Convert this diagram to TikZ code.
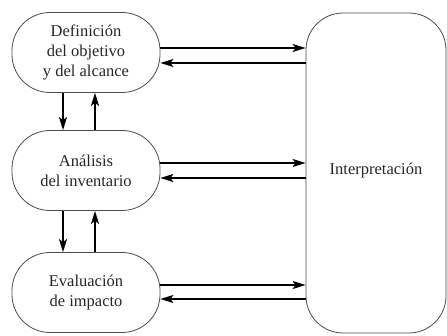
\documentclass[tikz,border=0pt]{standalone}
\usepackage{fontspec}
\setmainfont{Liberation Serif}
\usetikzlibrary{arrows.meta}

\begin{document}
\begin{tikzpicture}[x=1pt,y=-1pt,
		etapa/.style={draw=black!70, line width=0.8pt, rounded corners=38pt,
			minimum width=148pt, minimum height=80pt, align=center,
			font=\fontsize{16.5}{20}\selectfont, text=black!85},
		flecha/.style={line width=1.4pt, -{Stealth[length=13pt,width=8pt,inset=3pt]}}]
		\useasboundingbox (0,0) rectangle (447,336);
		\node[etapa] (def) at (86,52.5) {Definición\\del objetivo\\y del alcance};
		\node[etapa] (ana) at (86,170.5) {Análisis\\del inventario};
		\node[etapa] (eva) at (86,292.5) {Evaluación\\de impacto};
		\node[etapa, minimum width=140pt, minimum height=320pt, rounded corners=37pt] (interp) at (376,173) {\raisebox{9pt}{Interpretación}};
		% flechas horizontales
		\draw[flecha] ([yshift=4.5pt]def.east) -- ([yshift=4.5pt]def.east -| interp.west);
		\draw[flecha] ([yshift=-10.5pt]def.east -| interp.west) -- ([yshift=-10.5pt]def.east);
		\draw[flecha] ([yshift=7.5pt]ana.east) -- ([yshift=7.5pt]ana.east -| interp.west);
		\draw[flecha] ([yshift=-7.5pt]ana.east -| interp.west) -- ([yshift=-7.5pt]ana.east);
		\draw[flecha] ([yshift=7.5pt]eva.east) -- ([yshift=7.5pt]eva.east -| interp.west);
		\draw[flecha] ([yshift=-6.5pt]eva.east -| interp.west) -- ([yshift=-6.5pt]eva.east);
		% flechas verticales
		\draw[flecha] ([xshift=-23pt]def.south) -- ([xshift=-23pt]ana.north);
		\draw[flecha] ([xshift=9pt]ana.north) -- ([xshift=9pt]def.south);
		\draw[flecha] ([xshift=-23pt]ana.south) -- ([xshift=-23pt]eva.north);
		\draw[flecha] ([xshift=9pt]eva.north) -- ([xshift=9pt]ana.south);
	\end{tikzpicture}
\end{document}
